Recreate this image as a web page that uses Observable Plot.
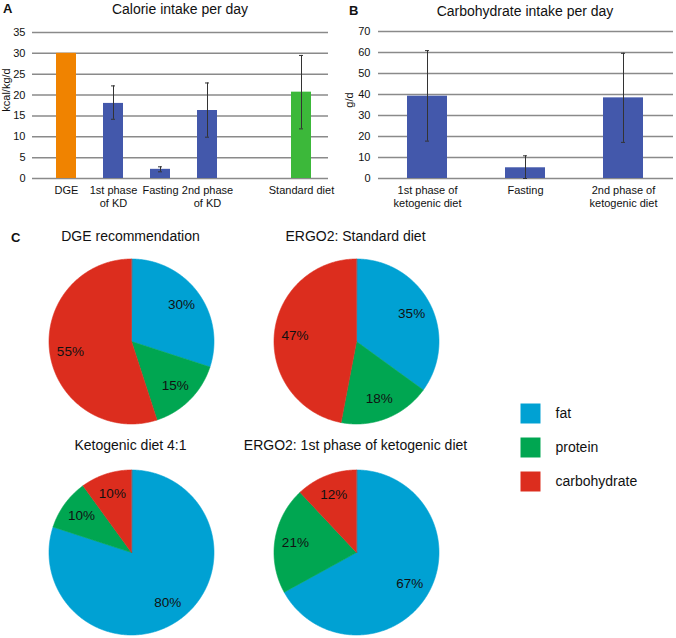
<!DOCTYPE html>
<html><head><meta charset="utf-8">
<script src="https://cdn.jsdelivr.net/npm/d3@7"></script>
<script src="https://cdn.jsdelivr.net/npm/@observablehq/plot@0.6"></script>
<style>
body{margin:0;background:#fff;}
#root{position:relative;width:676px;height:638px;font-family:"Liberation Sans",Arial,sans-serif;color:#111;overflow:hidden;background:#fff}
#root svg{position:absolute;overflow:visible;background:transparent}
.t{position:absolute;font-size:14px;white-space:nowrap;transform:translate(-50%,-50%)}
.p{position:absolute;font-weight:bold;font-size:13px;transform:translate(0,-50%)}
.yl{position:absolute;font-size:11px;white-space:nowrap;transform:translate(-50%,-50%) rotate(-90deg)}
</style></head><body><div id="root"></div>
<script>
// ---------- data ----------
const calorieSlots = ["DGE", "1st phase\nof KD", "Fasting", "2nd phase\nof KD", " ", "Standard diet"];
const calorieCategories = ["DGE", "1st phase\nof KD", "Fasting", "2nd phase\nof KD", "Standard diet"];
const calorieMean = [30, 18.0, 2.2, 16.3, 20.7];
const calorieLow = [null, 14.2, 1.6, 9.9, 11.9];
const calorieHigh = [null, 22.2, 2.8, 22.9, 29.5];
const calorieColors = ["#F08300", "#4358AB", "#4358AB", "#4358AB", "#3CB83A"];
const calorieTicks = [0, 5, 10, 15, 20, 25, 30, 35];

const carbCategories = ["1st phase of\nketogenic diet", "Fasting", "2nd phase of\nketogenic diet"];
const carbMean = [39.2, 5.1, 38.4];
const carbLow = [17.8, 0, 17.2];
const carbHigh = [60.9, 10.8, 59.6];
const carbTicks = [0, 10, 20, 30, 40, 50, 60, 70];

const macroNames = ["fat", "protein", "carbohydrate"];
const macroColors = ["#00A1D3", "#00A651", "#DC2D1E"];
const pieTitles = ["DGE recommendation", "ERGO2: Standard diet", "Ketogenic diet 4:1", "ERGO2: 1st phase of ketogenic diet"];
const dgeShares = [30, 15, 55];
const standardShares = [35, 18, 47];
const ketoShares = [80, 10, 10];
const ergoKetoShares = [67, 21, 12];

// ---------- helpers ----------
const root = document.getElementById("root");
const FONT = '"Liberation Sans", Arial, sans-serif';
function place(el, left, top) { el.style.left = left + "px"; el.style.top = top + "px"; root.appendChild(el); return el; }
function text(cls, str, x, y) { const d = document.createElement("div"); d.className = cls; d.textContent = str; return place(d, x, y); }
const baseStyle = {fontFamily: FONT, fontSize: "11px", color: "#111", background: "transparent", overflow: "visible"};

// ---------- Panel A ----------
const calData = calorieCategories.map((c, i) => ({cat: c, mean: calorieMean[i], lo: calorieLow[i], hi: calorieHigh[i], color: calorieColors[i]}));
const calErr = calData.filter(d => d.lo != null);
const plotA = Plot.plot({
  width: 336, height: 195, marginTop: 12, marginBottom: 37, marginLeft: 32, marginRight: 8,
  style: baseStyle,
  x: {type: "band", domain: calorieSlots, range: [42, 325], paddingInner: 0.575, paddingOuter: 0.2875, align: 0.5},
  y: {domain: [0, 35]},
  marks: [
    Plot.gridY(calorieTicks, {stroke: "#8a8a8a", strokeOpacity: 1, strokeWidth: 1.5}),
    Plot.barY(calData, {x: "cat", y: "mean", fill: "color"}),
    Plot.ruleX(calErr, {x: "cat", y1: "lo", y2: "hi", stroke: "#333", strokeWidth: 1}),
    Plot.tickY(calErr, {x: "cat", y: "hi", stroke: "#333", insetLeft: 8, insetRight: 8}),
    Plot.tickY(calErr, {x: "cat", y: "lo", stroke: "#333", insetLeft: 8, insetRight: 8}),
    Plot.axisY(calorieTicks, {tickSize: 0, tickPadding: 7, label: null, fontSize: 11}),
    Plot.axisX({tickSize: 0, tickPadding: 6, label: null, lineHeight: 1.18, fontSize: 11})
  ]
});
place(plotA, 0, 20);

// ---------- Panel B ----------
const carbData = carbCategories.map((c, i) => ({cat: c, mean: carbMean[i], lo: carbLow[i], hi: carbHigh[i]}));
const plotB = Plot.plot({
  width: 340, height: 195, marginTop: 11, marginBottom: 37, marginLeft: 42, marginRight: 3,
  style: baseStyle,
  x: {type: "band", domain: carbCategories, paddingInner: 0.59, paddingOuter: 0.295, align: 0.5},
  y: {domain: [0, 70]},
  marks: [
    Plot.gridY(carbTicks, {stroke: "#8a8a8a", strokeOpacity: 1, strokeWidth: 1.5}),
    Plot.barY(carbData, {x: "cat", y: "mean", fill: "#4358AB"}),
    Plot.ruleX(carbData, {x: "cat", y1: "lo", y2: "hi", stroke: "#333", strokeWidth: 1}),
    Plot.tickY(carbData, {x: "cat", y: "hi", stroke: "#333", insetLeft: 18, insetRight: 18}),
    Plot.tickY(carbData, {x: "cat", y: "lo", stroke: "#333", insetLeft: 18, insetRight: 18}),
    Plot.axisY(carbTicks, {tickSize: 0, tickPadding: 8, label: null, fontSize: 11}),
    Plot.axisX({tickSize: 0, tickPadding: 6, label: null, lineHeight: 1.18, fontSize: 11})
  ]
});
place(plotB, 336, 20);

// ---------- Panel texts ----------
text("p", "A", 3, 8);
text("p", "B", 349, 10);
text("p", "C", 11, 237);
text("t", "Calorie intake per day", 180, 9);
text("t", "Carbohydrate intake per day", 525, 11);
text("yl", "kcal/kg/d", 6, 90);
text("yl", "g/d", 349, 100);

// ---------- Pies ----------
const R = 82.5, S = 180, dom = (S / 2) / R;
function pie(shares) {
  const arcs = d3.pie().sort(null).value(d => d)(shares);
  const pts = [], labels = [];
  arcs.forEach((a, i) => {
    const key = macroNames[i];
    pts.push({key, x: 0, y: 0});
    const n = Math.max(2, Math.ceil((a.endAngle - a.startAngle) / (Math.PI / 360)));
    for (let k = 0; k <= n; k++) {
      const t = a.startAngle + (a.endAngle - a.startAngle) * k / n;
      pts.push({key, x: Math.sin(t), y: Math.cos(t)});
    }
    const m = (a.startAngle + a.endAngle) / 2;
    labels.push({key, x: 0.75 * Math.sin(m), y: 0.75 * Math.cos(m), text: shares[i] + "%"});
  });
  return Plot.plot({
    width: S, height: S, margin: 0,
    style: baseStyle,
    x: {domain: [-dom, dom], range: [0, S], axis: null},
    y: {domain: [-dom, dom], range: [S, 0], axis: null},
    color: {domain: macroNames, range: macroColors},
    marks: [
      Plot.line(pts, {x: "x", y: "y", z: "key", fill: "key", stroke: "key", strokeWidth: 0.6, curve: "linear-closed"}),
      Plot.text(labels, {x: "x", y: "y", text: "text", fontSize: 13.5, fill: "#111"})
    ]
  });
}
const pieShares = [dgeShares, standardShares, ketoShares, ergoKetoShares];
const pieCenters = [[130.5, 341], [355.5, 341], [130.5, 552], [355.5, 552]];
const titleY = [236, 236, 445, 445];
pieShares.forEach((s, i) => {
  const [cx, cy] = pieCenters[i];
  place(pie(s), cx - S / 2, cy - S / 2);
  text("t", pieTitles[i], cx, titleY[i]);
});

// ---------- Legend ----------
const legend = Plot.plot({
  width: 176, height: 150, margin: 0,
  style: baseStyle,
  y: {type: "point", domain: macroNames, range: [25, 129], axis: null},
  color: {domain: macroNames, range: macroColors},
  marks: [
    Plot.dot(macroNames, {y: d => d, fill: d => d, symbol: "square", r: 11.28, frameAnchor: "left", dx: 30, stroke: null}),
    Plot.text(macroNames, {y: d => d, text: d => d, frameAnchor: "left", dx: 55, textAnchor: "start", fontSize: 14, fill: "#111"})
  ]
});
place(legend, 500, 370);
</script></body></html>
